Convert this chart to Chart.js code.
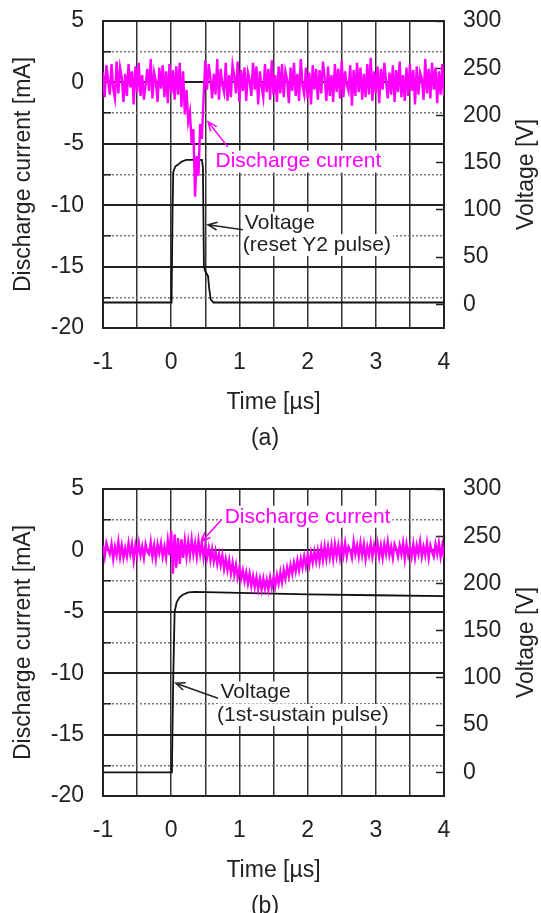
<!DOCTYPE html>
<html>
<head>
<meta charset="utf-8">
<script src="https://cdn.jsdelivr.net/npm/chart.js@4/dist/chart.umd.min.js"></script>
<style>
  html, body { margin: 0; padding: 0; background: #fff; overflow: hidden; }
  .panel { position: absolute; left: 0; width: 541px; height: 456px; }
  #panelA { top: 0; }
  #panelB { top: 468px; }
</style>
</head>
<body>
<div class="panel" id="panelA"><canvas id="chartA" width="541" height="456"></canvas></div>
<div class="panel" id="panelB"><canvas id="chartB" width="541" height="456"></canvas></div>
<script>
// current traces are sampled every 0.025 µs from -1 µs
const sampleStart = -1;
const sampleStep = 0.025;

const timeTicks = [-1, -0.5, 0, 0.5, 1, 1.5, 2, 2.5, 3, 3.5, 4];
const currentTicks = [-20, -17.5, -15, -12.5, -10, -7.5, -5, -2.5, 0, 2.5, 5];
const voltageTicks = [0, 50, 100, 150, 200, 250, 300];

// (a) reset Y2 pulse
const currentA = [
  0.8, -1.2, 1.4, 0.2, -1.0, 1.5, -0.5, -1.3, 1.7, -0.9, 1.2, 0.4, -1.6, 0.7, -1.1, 1.5, -0.4, 0.9, -1.8, 1.3,
  -0.8, 1.6, -1.1, 0.6, -1.4, -0.2, 1.1, -0.7, 1.9, -1.3, 0.8, 0.1, -1.6, 1.2, -0.5, 1.4, -1.2, 0.9, -1.7, 1.5,
  -0.9, 1.0, -1.4, 1.3, -1.0, 1.6, -2.0, 0.9, -2.6, -0.6, -3.2, -2.4, -5.0, -3.8, -9.3, -6.0, -7.6, -3.4, -4.6, -1.2,
  1.8, -0.6, 1.5, 0.3, -1.3, 0.7, -1.0, 1.9, -1.4, 1.1, -0.2, -0.8, 1.6, -1.5, 0.6, -1.2, 1.4, 0.5, -0.9, 1.7,
  -1.6, 1.0, -0.7, 1.2, -1.5, 0.8, 0.2, -1.1, 1.6, -0.6, 1.3, -1.8, 0.9, -0.3, -1.2, 1.5, -0.8, 1.1, -1.4, 1.8,
  -1.0, 0.6, -1.6, 1.3, -0.9, 1.5, -1.2, 0.9, 0.2, -1.7, 1.2, -0.7, 1.6, -1.1, 0.7, -1.5, 1.9, -0.3, -1.0, 1.2,
  -1.3, 0.8, -1.8, 1.4, -0.6, 1.1, -1.4, 1.0, -0.9, 1.7, 0.4, -1.5, 1.3, -1.1, 0.6, -1.6, 1.5, -0.8, 1.1, -1.3,
  1.8, -1.2, 0.9, -0.2, -0.7, 1.4, -1.9, 1.0, -1.1, 1.6, -0.8, 1.2, -1.4, 0.7, -1.2, 1.5, -1.0, 2.0, -1.5, 0.9,
  -0.9, 1.3, -1.7, 1.1, -0.6, 1.6, 0.1, -1.3, 0.8, -1.0, 1.4, -1.6, 1.0, -0.8, 1.7, -1.2, 0.6, -1.5, 1.2, -1.1,
  1.5, -0.7, 1.0, -1.8, 1.3, -1.0, 0.8, 0.3, -1.4, 1.9, -0.9, 1.1, -1.3, 1.6, -0.6, 1.2, -1.7, 0.9, -1.0, 1.5,
  -1.1
];
const voltageTimeA = [-1, 0.005, 0.02, 0.03, 0.06, 0.1, 0.15, 0.22, 0.45, 0.465, 0.48, 0.5, 0.54, 0.56, 0.58, 0.62, 4];
const voltageA = [2, 2, 100, 140, 146, 148, 151, 153, 153, 145, 40, 35, 30, 15, 5, 2, 2];

// (b) 1st sustain pulse
const currentB = [
  0.4, -0.5, 0.6, 0.1, -0.3, 0.5, -0.7, 0.3, -0.4, 0.7, -0.5, 0.4, -0.6, 0.2, -0.5, 0.6, -0.3, 0.5, -0.8, 0.4,
  -0.4, 0.6, -0.4, 0.3, -0.6, 0.5, -0.1, -0.3, 0.7, -0.5, 0.4, -0.7, 0.5, -0.2, 0.6, -0.5, 0.3, -0.6, 0.8, -0.4,
  1.6, -1.9, 1.3, -1.4, 1.0, -1.1, 0.9, -0.6, 0.8, -0.5, 0.7, -0.4, 0.9, -0.3, 0.6, -0.5, 0.8, -0.3, 0.6, -0.6,
  0.4, -0.6, 0.2, -0.8, 0.1, -0.9, -0.1, -1.1, -0.3, -1.2, -0.4, -1.5, -0.7, -1.6, -0.8, -1.9, -1.0, -2.0, -1.2, -2.2,
  -1.4, -2.3, -1.6, -2.5, -1.8, -2.7, -1.9, -2.9, -2.1, -3.0, -2.2, -3.1, -2.3, -3.2, -2.3, -3.1, -2.4, -3.2, -2.2, -3.0,
  -2.2, -2.9, -2.0, -2.7, -1.8, -2.6, -1.6, -2.3, -1.4, -2.1, -1.2, -1.9, -1.0, -1.7, -0.8, -1.6, -0.7, -1.4, -0.5, -1.3,
  -0.4, -1.2, -0.2, -1.0, -0.1, -0.9, 0.0, -0.9, 0.2, -0.8, 0.3, -0.7, 0.3, -0.6, 0.4, -0.7, 0.5, -0.5, 0.4, -0.6,
  0.5, -0.4, 0.6, -0.5, 0.3, 0.0, -0.6, 0.7, -0.3, 0.4, -0.5, 0.6, -0.4, 0.5, -0.7, 0.3, -0.4, 0.6, -0.5, 0.4,
  -0.3, 0.6, -0.5, 0.4, -0.6, 0.5, -0.3, 0.7, -0.4, 0.3, -0.6, 0.5, 0.1, -0.5, 0.4, -0.3, 0.6, -0.7, 0.5, -0.4,
  0.3, -0.5, 0.5, -0.6, 0.4, -0.3, 0.7, -0.5, 0.3, -0.4, 0.6, -0.6, 0.4, -0.1, -0.5, 0.5, -0.3, 0.6, -0.5, 0.4,
  -0.6
];
const voltageTimeB = [-1, 0.01, 0.03, 0.05, 0.08, 0.12, 0.17, 0.25, 0.35, 1, 2, 3, 4];
const voltageB = [0, 0, 100, 170, 180, 185, 188, 190.5, 191, 190, 188.5, 187.5, 186.5];

const notesA = {
  labels: [
    { text: 'Discharge current', t: 0.65, i: -6.45, color: '#ff00ff' },
    { text: 'Voltage', t: 1.08, i: -11.45, color: '#222' },
    { text: '(reset Y2 pulse)', t: 1.05, i: -13.25, color: '#222' },
  ],
  arrows: [
    { from: [0.83, -5.25], to: [0.54, -3.2], color: '#ff00ff' },
    { from: [1.05, -12.0], to: [0.54, -11.6], color: '#222' },
  ],
  caption: '(a)',
};
const notesB = {
  labels: [
    { text: 'Discharge current', t: 0.784, i: 2.74, color: '#ff00ff' },
    { text: 'Voltage', t: 0.723, i: -11.57, color: '#222' },
    { text: '(1st-sustain pulse)', t: 0.673, i: -13.4, color: '#222' },
  ],
  arrows: [
    { from: [0.735, 2.48], to: [0.443, 0.71], color: '#ff00ff' },
    { from: [0.685, -12.04], to: [0.067, -10.82], color: '#222' },
  ],
  caption: '(b)',
};

const FONT = '"Liberation Sans", Arial, sans-serif';
Chart.defaults.font.family = FONT;
Chart.defaults.font.size = 23;
Chart.defaults.color = '#222';

function isMajor(v) {
  return v % 5 === 0;
}

function drawArrow(ctx, x1, y1, x2, y2, color) {
  const ang = Math.atan2(y2 - y1, x2 - x1);
  const head = 10;
  ctx.strokeStyle = color;
  ctx.lineWidth = 1.5;
  ctx.beginPath();
  ctx.moveTo(x1, y1);
  ctx.lineTo(x2, y2);
  ctx.moveTo(x2 - head * Math.cos(ang - 0.4), y2 - head * Math.sin(ang - 0.4));
  ctx.lineTo(x2, y2);
  ctx.lineTo(x2 - head * Math.cos(ang + 0.4), y2 - head * Math.sin(ang + 0.4));
  ctx.stroke();
}

// labels, arrows, caption and the right axis title (reads bottom to top)
function notesPlugin(notes) {
  return {
    id: 'notes',
    afterDatasetsDraw(chart) {
      const ctx = chart.ctx;
      const xs = chart.scales.x;
      const ys = chart.scales.yI;
      ctx.save();
      ctx.font = '21px ' + FONT;
      ctx.textBaseline = 'middle';
      ctx.textAlign = 'left';
      notes.labels.forEach((l) => {
        const px = xs.getPixelForValue(l.t);
        const py = ys.getPixelForValue(l.i);
        const w = ctx.measureText(l.text).width;
        ctx.fillStyle = '#fff';
        ctx.fillRect(px - 2, py - 11, w + 4, 22);
      });
      notes.labels.forEach((l) => {
        ctx.fillStyle = l.color;
        ctx.fillText(l.text, xs.getPixelForValue(l.t), ys.getPixelForValue(l.i));
      });
      notes.arrows.forEach((a) => {
        drawArrow(ctx,
          xs.getPixelForValue(a.from[0]), ys.getPixelForValue(a.from[1]),
          xs.getPixelForValue(a.to[0]), ys.getPixelForValue(a.to[1]), a.color);
      });
      ctx.restore();
    },
    afterDraw(chart) {
      const ctx = chart.ctx;
      const area = chart.chartArea;
      ctx.save();
      ctx.fillStyle = '#222';
      ctx.font = '23px ' + FONT;
      ctx.textAlign = 'center';
      ctx.textBaseline = 'middle';
      ctx.fillText(notes.caption, 265, 439);
      ctx.translate(527, (area.top + area.bottom) / 2);
      ctx.rotate(-Math.PI / 2);
      ctx.fillText('Voltage [V]', 0, 0);
      ctx.restore();
    },
  };
}

// y axes: fixed width, and no extra label padding pushed into the layout
function fixWidth(w) {
  return (s) => {
    s.width = w;
    s.paddingTop = 0;
    s.paddingBottom = 0;
  };
}

function makeChart(id, current, voltTime, volt, notes) {
  const currentPoints = current.map((v, i) => ({ x: sampleStart + i * sampleStep, y: v }));
  const voltagePoints = voltTime.map((t, i) => ({ x: t, y: volt[i] }));

  return new Chart(document.getElementById(id), {
    type: 'line',
    data: {
      datasets: [
        {
          label: 'Discharge current',
          data: currentPoints,
          yAxisID: 'yI',
          borderColor: '#ff00ff',
          borderWidth: 2.4,
          pointRadius: 0,
          order: 1,
        },
        {
          label: 'Voltage',
          data: voltagePoints,
          yAxisID: 'yV',
          borderColor: '#111',
          borderWidth: 1.8,
          pointRadius: 0,
          order: 2,
        },
      ],
    },
    options: {
      responsive: false,
      animation: false,
      layout: { padding: { top: 21, bottom: 0, left: 0, right: 0 } },
      plugins: {
        legend: { display: false },
        tooltip: { enabled: false },
      },
      scales: {
        x: {
          type: 'linear',
          min: -1,
          max: 4,
          afterBuildTicks: (s) => { s.ticks = timeTicks.map((v) => ({ value: v })); },
          afterFit: (s) => { s.height = 128; },
          grid: { color: '#333', lineWidth: 1.5, drawTicks: false },
          border: { color: '#222', width: 2 },
          ticks: {
            padding: 21,
            autoSkip: false,
            maxRotation: 0,
            callback: (v) => (Number.isInteger(v) ? String(v) : ''),
          },
          title: { display: true, text: 'Time [µs]', padding: { top: 0, bottom: 40 } },
        },
        yI: {
          type: 'linear',
          position: 'left',
          min: -20,
          max: 5,
          afterBuildTicks: (s) => { s.ticks = currentTicks.map((v) => ({ value: v })); },
          afterFit: fixWidth(103),
          grid: {
            color: (c) => (c.tick && !isMajor(c.tick.value) ? '#777' : '#222'),
            lineWidth: (c) => (c.tick && !isMajor(c.tick.value) ? 1.5 : 2),
            drawTicks: true,
            tickLength: -8,
            tickColor: '#222',
            tickWidth: 1.5,
          },
          border: {
            color: '#222',
            width: 2,
            dash: (c) => (c.tick && !isMajor(c.tick.value) ? [2, 2] : []),
          },
          ticks: {
            padding: 27,
            autoSkip: false,
            callback: (v) => (isMajor(v) ? String(v) : ''),
          },
          title: { display: true, text: 'Discharge current [mA]', padding: { top: 10, bottom: 0 } },
        },
        yV: {
          type: 'linear',
          position: 'right',
          min: -25,
          max: 300,
          afterBuildTicks: (s) => { s.ticks = voltageTicks.map((v) => ({ value: v })); },
          afterFit: fixWidth(97),
          grid: {
            drawOnChartArea: false,
            drawTicks: true,
            tickLength: -8,
            tickColor: '#222',
            tickWidth: 1.5,
          },
          border: { color: '#222', width: 2 },
          ticks: { padding: 27, autoSkip: false },
        },
      },
    },
    plugins: [notesPlugin(notes)],
  });
}

makeChart('chartA', currentA, voltageTimeA, voltageA, notesA);
makeChart('chartB', currentB, voltageTimeB, voltageB, notesB);
</script>
</body>
</html>
